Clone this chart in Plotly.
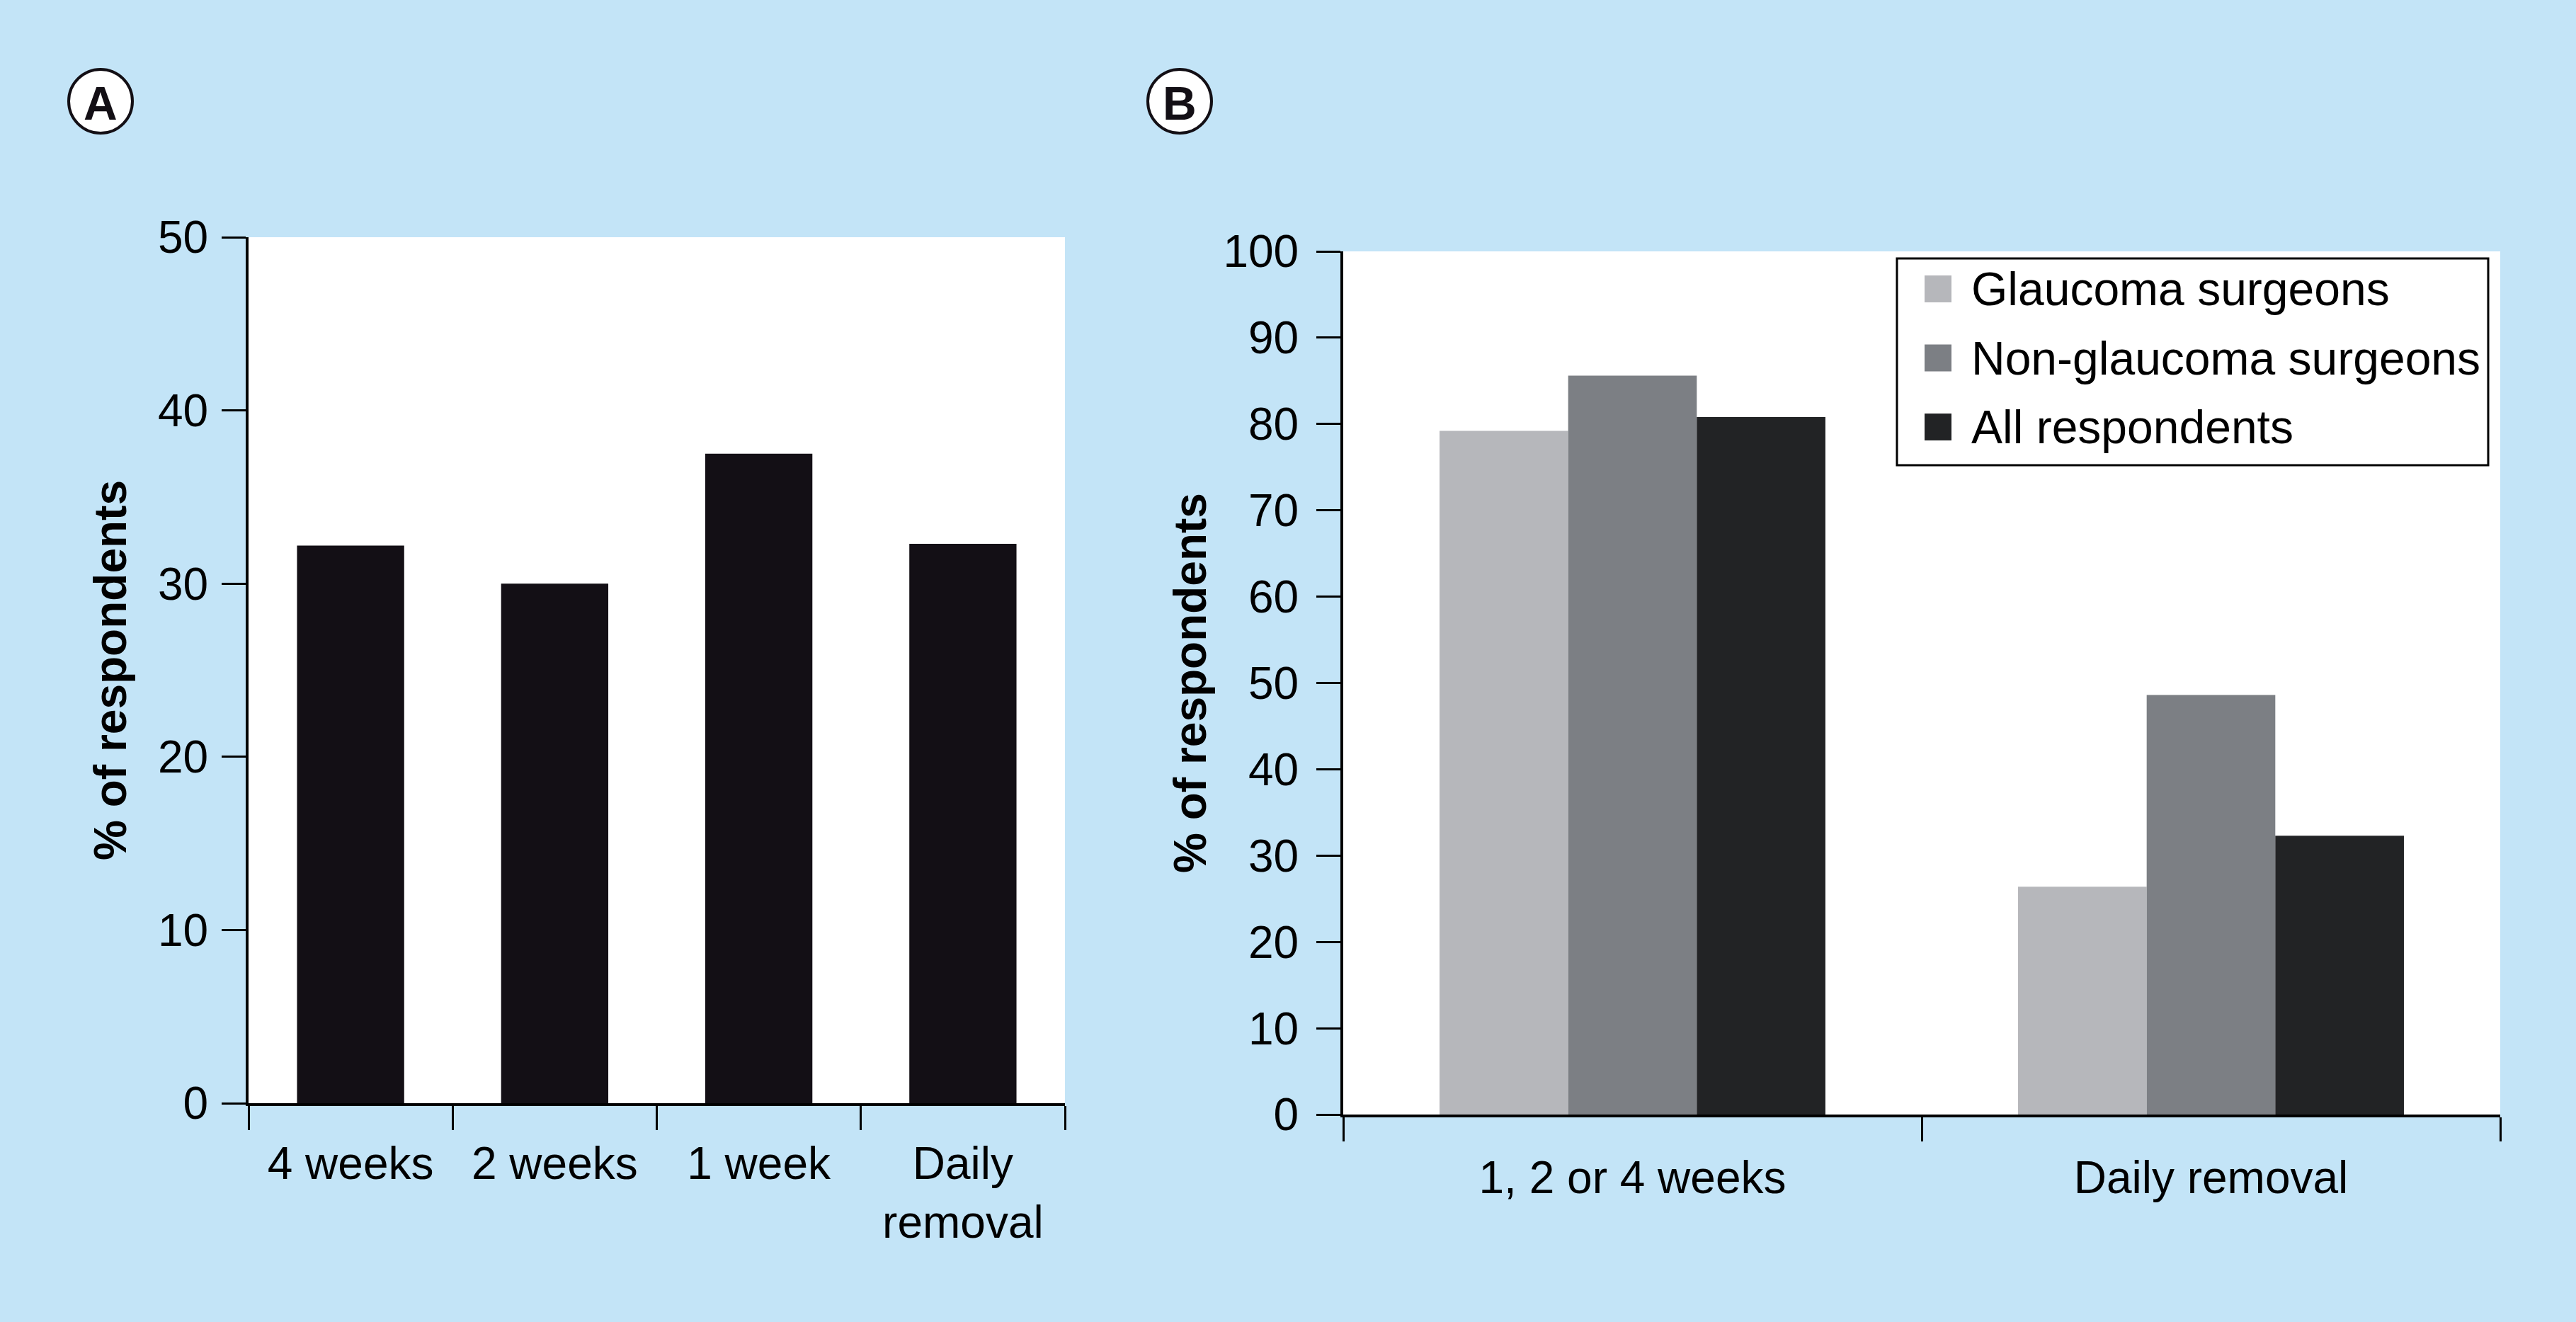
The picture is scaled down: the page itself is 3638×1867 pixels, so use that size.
import plotly.graph_objects as go

# panel A data
periods = ['4 weeks', '2 weeks', '1 week', 'Daily<br>removal']
pct_all = [32.2, 30.0, 37.5, 32.3]

# panel B data
groups = ['1, 2 or 4 weeks', 'Daily removal']
series_names = ['Glaucoma surgeons', 'Non-glaucoma surgeons', 'All respondents']
glaucoma = [79.2, 26.4]
non_glaucoma = [85.6, 48.6]
all_resp = [80.8, 32.3]

W, H = 3638, 1867
BG = '#c3e4f7'
FONT = 'Liberation Sans, Arial, sans-serif'
colors = ['#b6b7bb', '#7c7f84', '#222325']


def fx(x):
    return x / W


def fy(y):
    return 1 - y / H


fig = go.Figure()

fig.add_trace(go.Bar(x=periods, y=pct_all, width=0.525, marker_color='#130f15',
                     marker_line_width=0, showlegend=False, xaxis='x', yaxis='y'))

for name, vals, col in zip(series_names, [glaucoma, non_glaucoma, all_resp], colors):
    fig.add_trace(go.Bar(x=groups, y=vals, name=name, marker_color=col,
                         marker_line_width=0, showlegend=False, xaxis='x2', yaxis='y2'))

axis_common = dict(showline=True, linecolor='black', linewidth=4, ticks='outside',
                   ticklen=34, tickwidth=3, tickcolor='black', showgrid=False,
                   zeroline=False, tickfont=dict(size=64, color='black', family=FONT))

fig.update_layout(
    width=W, height=H,
    margin=dict(l=0, r=0, t=0, b=0, autoexpand=False),
    paper_bgcolor=BG, plot_bgcolor='white',
    font=dict(family=FONT, color='black'),
    barmode='group', bargap=0.333, bargroupgap=0,
    xaxis=dict(domain=[fx(351), fx(1504)], anchor='y', type='category', automargin=False,
               tickson='boundaries', ticklabelstandoff=26, **axis_common),
    yaxis=dict(domain=[fy(1558), fy(335)], anchor='x', range=[0, 50], dtick=10,
               ticklabelstandoff=6, automargin='left',
               title=dict(text='<b>% of respondents</b>', font=dict(size=64, family=FONT),
                          standoff=25),
               **axis_common),
    xaxis2=dict(domain=[fx(1897), fx(3531)], anchor='y2', type='category', automargin=False,
                tickson='boundaries', ticklabelstandoff=30, **axis_common),
    yaxis2=dict(domain=[fy(1574), fy(355)], anchor='x2', range=[0, 100], dtick=10,
                ticklabelstandoff=12, automargin='left',
                title=dict(text='<b>% of respondents</b>', font=dict(size=64, family=FONT),
                           standoff=4),
                **axis_common),
)

shapes = []
annotations = []

# panel letters in circles
for letter, cx in [('A', 142), ('B', 1666)]:
    cy, r = 143, 45
    shapes.append(dict(type='circle', xref='paper', yref='paper',
                       x0=fx(cx - r), x1=fx(cx + r), y0=fy(cy + r), y1=fy(cy - r),
                       fillcolor='white', line=dict(color='#130f15', width=4)))
    annotations.append(dict(text='<b>%s</b>' % letter, xref='paper', yref='paper',
                            x=fx(cx), y=fy(cy + 3), xanchor='center', yanchor='middle',
                            showarrow=False, font=dict(size=66, family=FONT, color='#130f15')))

# legend box for panel B
shapes.append(dict(type='rect', xref='paper', yref='paper',
                   x0=fx(2679), x1=fx(3514), y0=fy(657), y1=fy(365),
                   fillcolor='white', line=dict(color='black', width=3)))
for i, (name, col) in enumerate(zip(series_names, colors)):
    ry = 408 + i * 97.5
    shapes.append(dict(type='rect', xref='paper', yref='paper',
                       x0=fx(2718), x1=fx(2756), y0=fy(ry + 19), y1=fy(ry - 19),
                       fillcolor=col, line=dict(width=0)))
    annotations.append(dict(text=name, xref='paper', yref='paper',
                            x=fx(2782), y=fy(ry), xanchor='left', yanchor='middle',
                            showarrow=False, font=dict(size=66, family=FONT, color='black')))

fig.update_layout(shapes=shapes, annotations=annotations)

# drop the default page margin so the figure sits flush in the window
fig.write_html("out.html", config={'displayModeBar': False},
               post_script="document.body.style.margin='0';")
